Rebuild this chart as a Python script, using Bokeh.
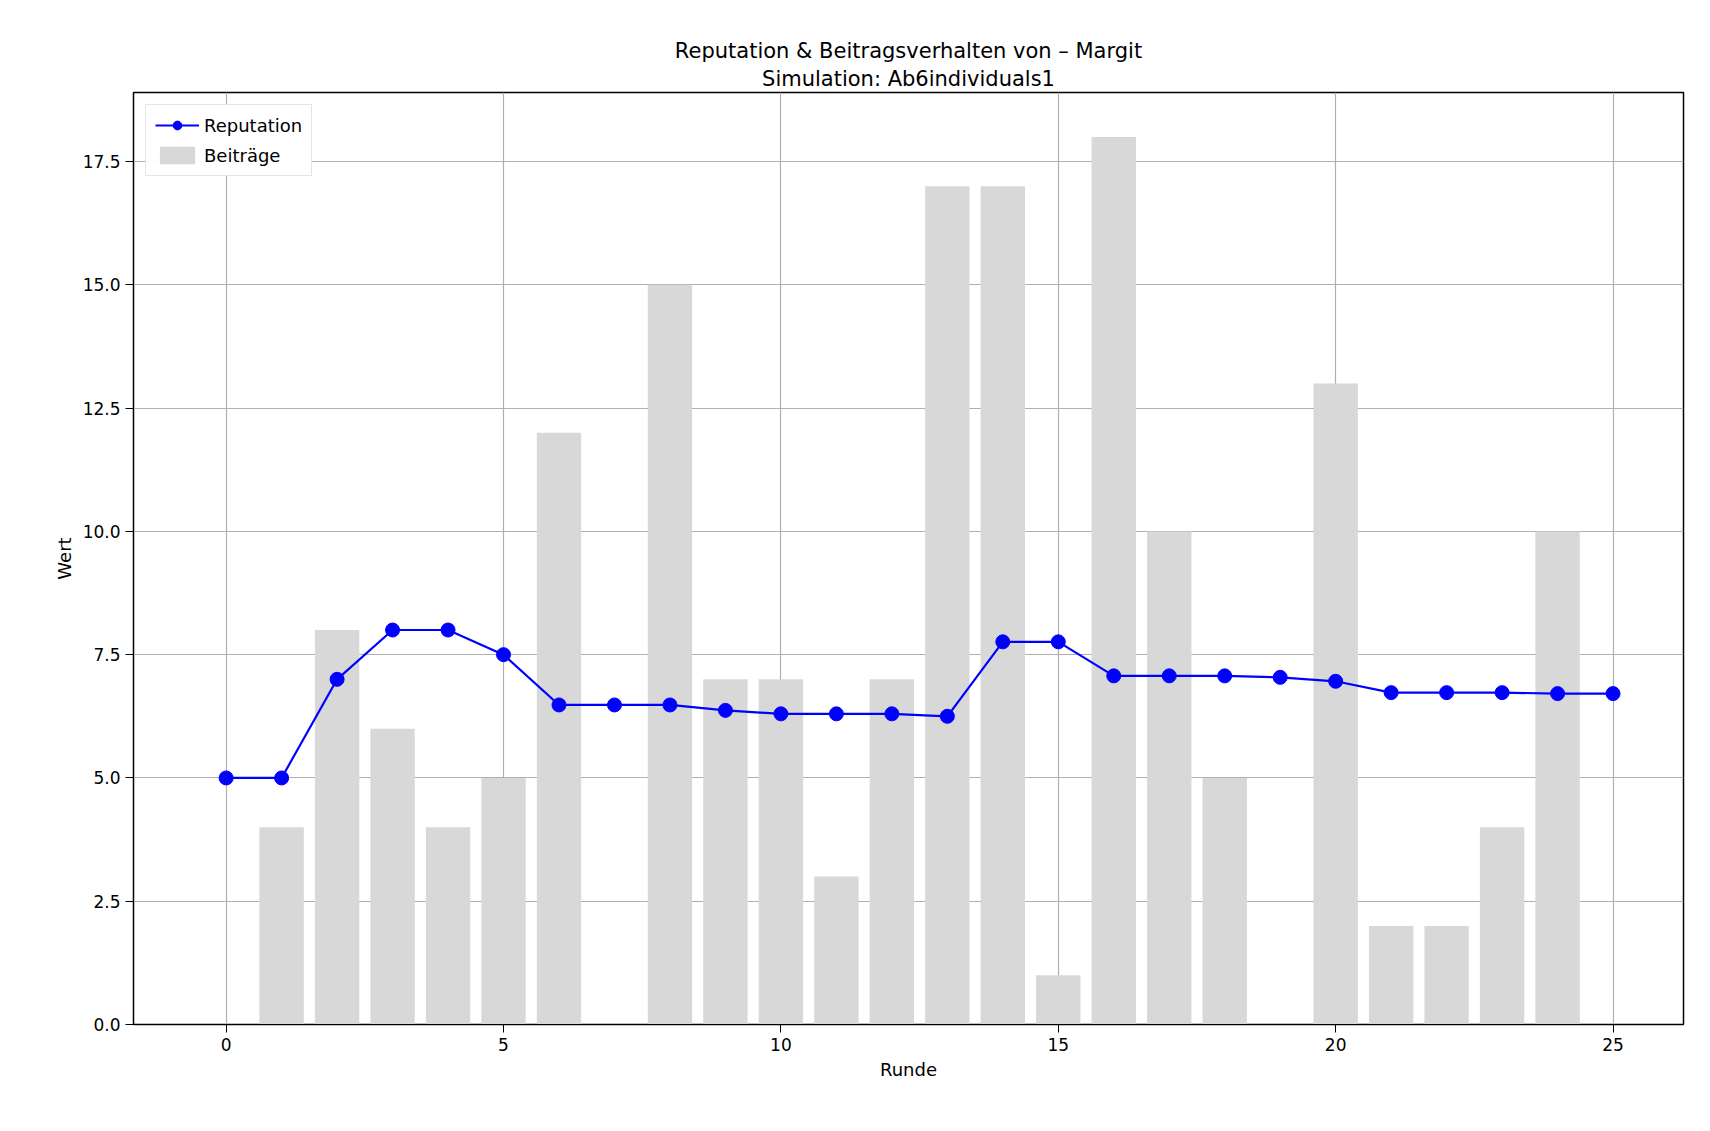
from bokeh.plotting import figure
from bokeh.models import Range1d, Title, Legend, LegendItem, SingleIntervalTicker, CustomJSTickFormatter
from bokeh.embed import file_html
from bokeh.resources import INLINE

runden_bar = list(range(0, 25))
beitraege = [0, 4, 8, 6, 4, 5, 12, 0, 15, 7, 7, 3, 7, 17, 17, 1, 18, 10, 5, 0, 13, 2, 2, 4, 10]
runden = list(range(0, 26))
reputation = [5.0, 5.0, 7.0, 8.0, 8.0, 7.5, 6.48, 6.48, 6.48, 6.37, 6.3, 6.3, 6.3, 6.25,
              7.76, 7.76, 7.07, 7.07, 7.07, 7.04, 6.96, 6.73, 6.73, 6.73, 6.71, 6.71]

FONT = "DejaVu Sans"

p = figure(width=1694, height=1112, output_backend="svg", toolbar_location=None,
           x_range=Range1d(-1.67, 26.27), y_range=Range1d(0, 18.9),
           min_border_left=133, min_border_right=11, min_border_top=92, min_border_bottom=88)

bars = p.vbar(x=runden_bar, top=beitraege, width=0.8, color="#d8d8d8", line_color=None)
line = p.line(runden, reputation, color="blue", line_width=2.2)
pts = p.scatter(runden, reputation, size=14, color="blue")

p.add_layout(Title(text="Simulation: Ab6individuals1", align="center", text_font=FONT,
                   text_font_size="21px", text_font_style="normal", text_color="black",
                   standoff=4), "above")
p.add_layout(Title(text="Reputation & Beitragsverhalten von – Margit", align="center", text_font=FONT,
                   text_font_size="21px", text_font_style="normal", text_color="black",
                   standoff=0), "above")

legend = Legend(items=[LegendItem(label="Reputation", renderers=[line, pts]),
                       LegendItem(label="Beiträge", renderers=[bars])],
                location="top_left", label_text_font=FONT, label_text_font_size="18px",
                label_text_color="black",
                border_line_color="#cccccc", border_line_width=1.5, margin=12, padding=9,
                spacing=8, glyph_width=44, glyph_height=22, label_height=22)
p.add_layout(legend)

p.xaxis.ticker = SingleIntervalTicker(interval=5)
p.yaxis.ticker = SingleIntervalTicker(interval=2.5)
p.yaxis.formatter = CustomJSTickFormatter(code="return tick.toFixed(1);")
for ax in (p.xaxis, p.yaxis):
    ax.axis_label_text_font = FONT
    ax.axis_label_text_font_size = "18px"
    ax.axis_label_text_font_style = "normal"
    ax.axis_label_text_color = "black"
    ax.major_label_text_font = FONT
    ax.major_label_text_font_size = "17px"
    ax.major_label_text_color = "black"
    ax.minor_tick_line_color = None
    ax.major_tick_out = 8
    ax.major_tick_in = 0
    ax.axis_line_color = "black"
    ax.major_tick_line_color = "black"
p.xaxis.axis_label = "Runde"
p.yaxis.axis_label = "Wert"
p.grid.grid_line_color = "#b0b0b0"
p.grid.grid_line_width = 1.2
p.outline_line_color = "black"
p.outline_line_width = 1.5

open("out.html", "w").write(file_html(p, INLINE))
